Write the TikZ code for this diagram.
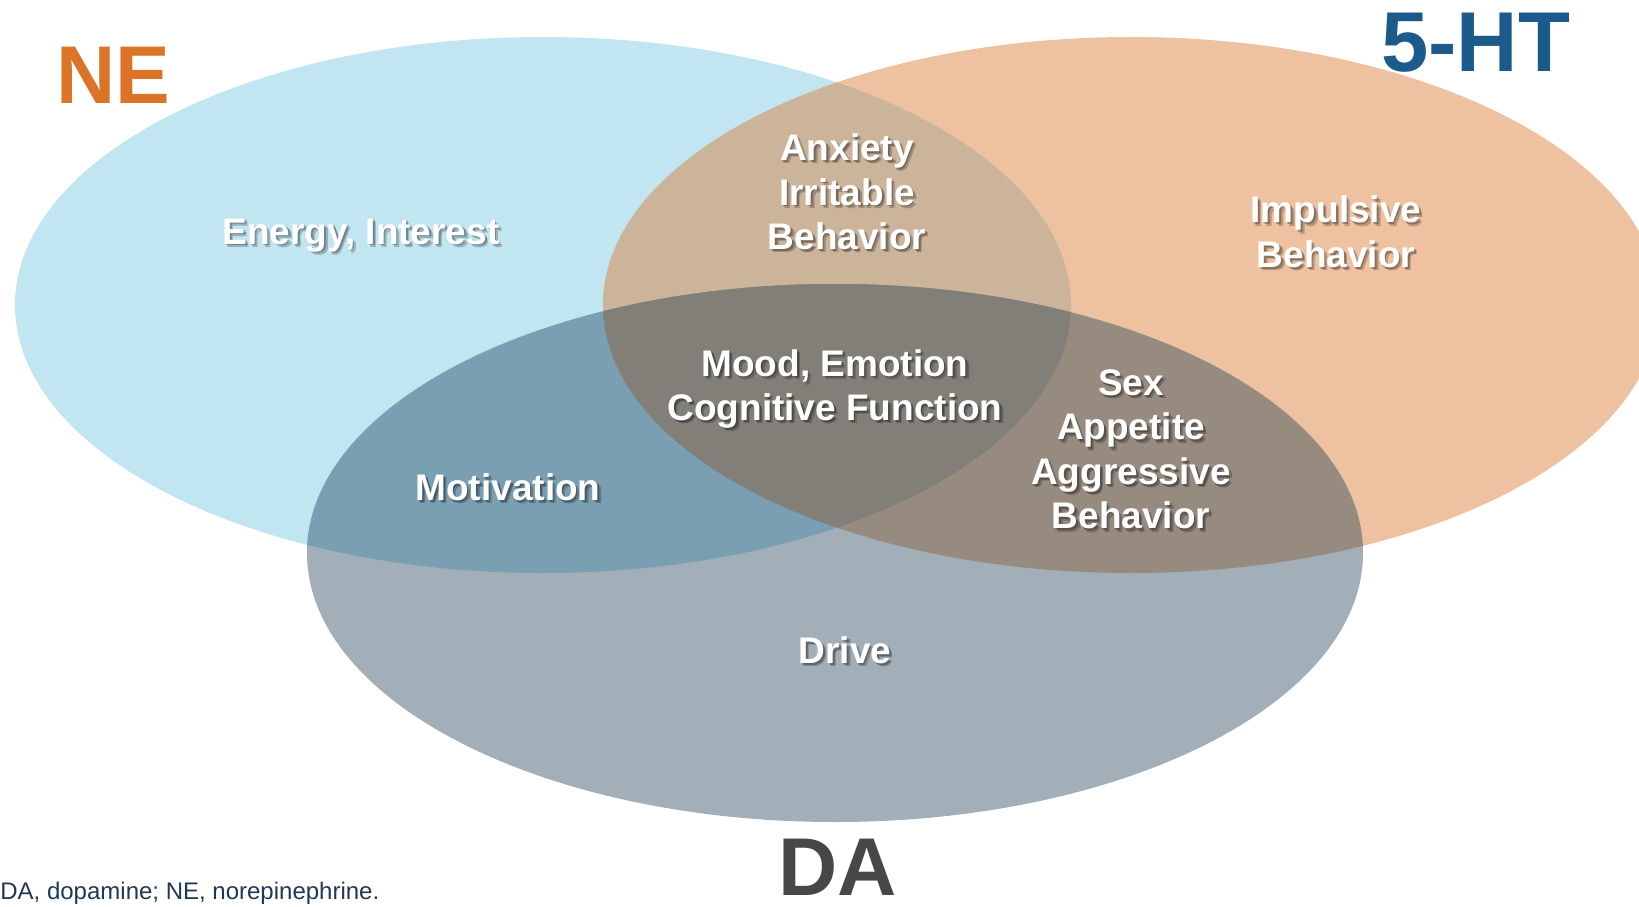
\documentclass[tikz,border=0pt]{standalone}
\usepackage{fontspec}
\setmainfont{Liberation Sans}
\definecolor{NEblue}{RGB}{193,229,241}
\definecolor{HTpeach}{RGB}{238,194,160}
\definecolor{DAgrey}{RGB}{162,175,184}
\definecolor{NEHT}{RGB}{204,180,154}
\definecolor{NEDA}{RGB}{122,159,178}
\definecolor{HTDA}{RGB}{151,138,127}
\definecolor{AllThree}{RGB}{129,127,120}
\definecolor{NEorange}{RGB}{220,116,40}
\definecolor{HTblue}{RGB}{27,90,138}
\definecolor{DAdark}{RGB}{71,71,71}
\definecolor{NoteNavy}{RGB}{31,56,84}

% white bold label with a soft drop shadow
\newcommand{\shadowlabel}[4]{%
  \node[lbl, black, opacity=0.22, xshift=1.6pt, yshift=-1.6pt] at (#2,#3) {#4};
  \node[lbl, black, opacity=0.25, xshift=0.8pt, yshift=-0.8pt] at (#2,#3) {#4};
  \node[lbl, white] (#1) at (#2,#3) {#4};}

\begin{document}
\begin{tikzpicture}[x=0.5pt,y=-0.5pt,
    ne/.style={insert path={(543,305) ellipse [x radius=264pt, y radius=134pt]}},
    ht/.style={insert path={(1131,305) ellipse [x radius=264pt, y radius=134pt]}},
    da/.style={insert path={(835,553) ellipse [x radius=264pt, y radius=134.5pt]}},
    lbl/.style={align=center, inner sep=0pt, font=\fontsize{18.5}{22.25}\selectfont\bfseries},
    big/.style={anchor=base, inner sep=0pt, font=\fontsize{41}{41}\selectfont\bfseries}]
  \useasboundingbox (0,0) rectangle (1639,906);
  \begin{scope}
    \clip (0,0) rectangle (1639,906);
    \fill[NEblue, ne];
    \fill[HTpeach, ht];
    \begin{scope}
      \clip[ne]; \fill[NEHT, ht];
    \end{scope}
    \fill[DAgrey, da];
    \begin{scope}
      \clip[da]; \fill[NEDA, ne]; \fill[HTDA, ht];
      \clip[ne]; \fill[AllThree, ht];
    \end{scope}
  \end{scope}

  \shadowlabel{energy}{361}{235.5}{Energy, Interest}
  \shadowlabel{anxiety}{847}{192}{Anxiety\\Irritable\\Behavior}
  \shadowlabel{impulsive}{1336}{232}{Impulsive\\Behavior}
  \shadowlabel{mood}{835}{389}{Mood, Emotion\\Cognitive Function}
  \shadowlabel{sex}{1131}{449.5}{Sex\\Appetite\\Aggressive\\Behavior}
  \shadowlabel{motivation}{508}{487.5}{Motivation}
  \shadowlabel{drive}{845}{650.5}{Drive}

  \node[big, NEorange] (nelabel) at (113.5,103) {NE};
  \node[big, HTblue, font=\fontsize{42.5}{42.5}\selectfont\bfseries] (htlabel) at (1475.5,71) {5-HT};
  \node[big, DAdark] (dalabel) at (838,895) {DA};
  \node[anchor=base west, inner sep=0pt, NoteNavy, font=\fontsize{12}{12}\selectfont] (note) at (0,899) {DA, dopamine; NE, norepinephrine.};
\end{tikzpicture}
\end{document}
